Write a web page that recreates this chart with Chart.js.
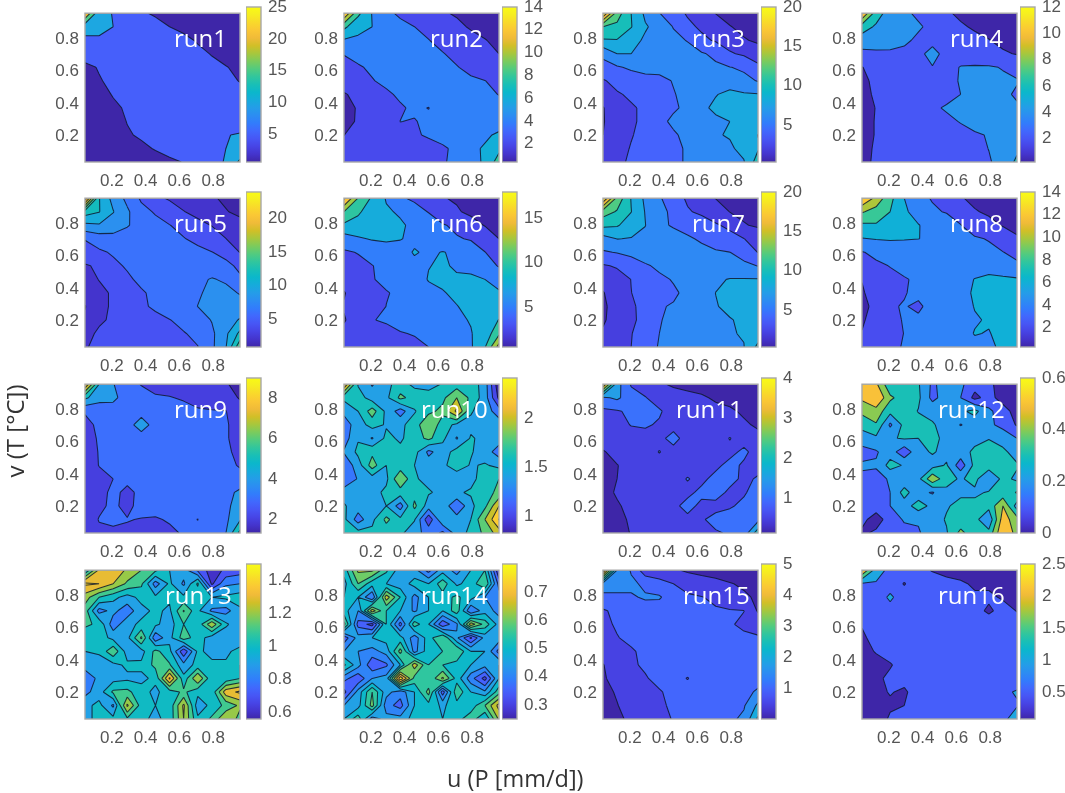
<!DOCTYPE html>
<html>
<head>
<meta charset="utf-8">
<style>
  body { margin: 0; background: #fff; }
  #wrap { position: relative; width: 1065px; height: 793px; overflow: hidden; filter: blur(0.35px); }
  canvas { position: absolute; }
  .axisTitle { position: absolute; font-family: "Open Sans"; color: #333; white-space: nowrap; }
</style>
<script src="https://cdn.jsdelivr.net/npm/chart.js@4"></script>
</head>
<body>
<div id="wrap">
  <div class="axisTitle" style="left:447px;top:762px;font-size:23.5px">u (P [mm/d])</div>
  <div class="axisTitle" style="left:14px;top:431px;font-size:24px;transform:translate(-50%,-50%) rotate(-90deg)">v (T [°C])</div>
</div>
<script>
// grid of the surfaces, rows of each run go from the top (high v) down
const gridU = [0.0417, 0.125, 0.2083, 0.2917, 0.375, 0.4583, 0.5417, 0.625, 0.7083, 0.7917, 0.875, 0.9583];
const gridV = [0.9583, 0.875, 0.7917, 0.7083, 0.625, 0.5417, 0.4583, 0.375, 0.2917, 0.2083, 0.125, 0.0417];
const axisTicks = [0.2, 0.4, 0.6, 0.8];
const runNames = ['run1','run2','run3','run4','run5','run6','run7','run8','run9','run10','run11','run12','run13','run14','run15','run16'];

const run1 = [
  [25,11.5,9.8,8.5,5.4,4.6,4.3,4,3.6,3.3,3.1,3],
  [12,11,10,8,7,6,5,4.5,4.2,3.8,3.4,3],
  [9,9.5,8,7.5,7,6.5,6,5.5,4.8,4.2,3.6,3.1],
  [6.4,6,6.5,7,7,6.6,6.2,5.9,5.5,4.9,4.2,3.6],
  [4.3,5.2,6,6.6,7,7,6.6,6.2,5.9,5.5,5.1,4.5],
  [3.4,4.8,5.6,6.3,7,7,7,6.6,6.2,5.9,5.6,4.9],
  [3,3.9,5.2,6,6.6,7,7,6.9,6.5,6.3,6,5.8],
  [2.7,3.4,4.4,5.4,6.2,6.8,7,7,6.8,6.6,6.4,6.3],
  [2.4,3,3.8,5.1,5.8,6.4,6.8,7,7,6.9,7,7.5],
  [2.1,2.7,3.3,4.7,5.4,6,6.4,6.8,7,7.5,9.8,10.4],
  [1.7,2.3,2.8,3.5,4.4,5.2,5.9,6.4,7,8,10,11],
  [1,1.8,2.3,2.8,3.3,3.9,4.5,5.1,6.5,8,10.5,16]
];
const run2 = [
  [14,8.5,5.9,4.5,3.6,3.2,2.8,2.2,1.8,1.6,1.4,1.2],
  [8.5,6.5,6,5,4.6,4,3.4,3,2.4,1.8,1.6,1.4],
  [5.8,5.7,5.3,5,4.7,4.4,4.05,3.4,3,2.6,2.05,1.7],
  [4.1,4.6,5,5,4.9,4.7,4.4,4.1,3.5,3,2.5,2],
  [3.2,3.8,4.3,4.6,4.8,4.8,4.6,4.4,4.1,3.5,3,2.6],
  [2.6,3.1,3.9,4.4,4.7,4.9,4.9,4.7,4.5,4.3,4.03,3.5],
  [1.9,2.3,3,3.7,4.3,4.7,4.9,4.9,4.8,4.6,4.4,3.95],
  [1.6,2.1,2.8,3.4,3.8,4.3,3.95,4.9,5,4.9,4.7,4.6],
  [1.7,2.1,2.8,3.3,4.02,3.9,4.4,4.8,5,5.1,5,5.1],
  [1.98,2.6,3,3.3,3.6,3.9,4.1,4.5,5,5.2,5.7,6.3],
  [2.3,2.8,3.1,3.3,3.5,3.6,3.7,3.8,4.3,5.6,6.2,7.5],
  [2.5,2.8,3,3.2,3.3,3.4,3.6,3.8,4.5,5.5,6.2,9]
];
const run3 = [
  [20,13,10,7.6,6.05,4.8,3.8,2.8,1.95,1.6,1.3,1.1],
  [12,11.5,10.1,8.2,7.3,5.9,4.4,3.7,3,2.05,1.7,1.3],
  [9.8,9.9,8.7,7.7,7.1,6.5,5.9,4.4,3.8,3.2,2.1,1.8],
  [6.4,8,8,7.5,7.2,7,6.7,6.2,5.6,4.2,3.7,2.6],
  [5.4,5.8,6.3,6.6,6.6,6.7,6.6,6.5,6.3,6.05,5.7,4.6],
  [3.8,4.6,5,5.4,5.5,6.1,6.7,6.9,7.2,7,6.5,5.9],
  [3,3.8,4.3,4.8,5.3,5.9,6.5,7.2,7.9,8.5,8.2,8.1],
  [1.9,3.2,3.8,4.3,4.8,5.8,6.3,7.6,8.4,8.7,8.7,8.8],
  [1.9,2.8,3.8,4.3,5.6,6.3,6.7,7.2,7.6,8,8.5,9.2],
  [2,3.2,3.9,4.5,5.2,5.8,6.4,6.9,7.9,8.1,8.6,10.05],
  [2.6,3.4,4.1,4.6,5,5.6,6.2,6.7,7.1,7.8,8.4,9.8],
  [2.9,3.7,4.2,4.7,5,5.6,6.2,6.6,7,7.6,7.9,11]
];
const run4 = [
  [12,7,5,4.3,3.7,3,2.2,1.7,1.4,1.2,1,0.9],
  [7,5.7,4.9,4.6,4.2,3.6,3,2.2,1.8,1.5,1.3,1.1],
  [5,5,4.7,4.3,3.7,3.3,3,2.8,2.4,2.05,1.6,1.3],
  [3.5,3.6,3.7,3.6,3.4,4.8,3.2,3,2.8,2.5,2.2,1.9],
  [1.95,2.6,3,3.2,3.2,3.9,3.3,4.1,4.2,4.2,3.9,3.5],
  [1.8,2.2,3,3.2,3.3,3.3,3.6,4.1,4.3,4.4,4.3,4.1],
  [1.6,2.2,3,3.2,3.3,3.4,3.7,4,4.4,4.4,4.3,3.8],
  [1.4,2.05,3,3.2,3.3,3.85,4.1,4.3,4.4,4.4,4.3,4.2],
  [1.4,2.1,2.9,3.2,3.3,3.5,3.8,4.05,4.3,4.4,4.4,4.4],
  [1.4,2.1,2.8,3.1,3.2,3.3,3.5,3.7,3.9,4.05,4.4,4.6],
  [1.5,2.2,2.8,3,3.1,3.2,3.3,3.5,3.7,4.02,4.4,5.5],
  [1.5,2.3,2.8,3,3.1,3.2,3.2,3.4,3.7,3.9,4.4,6.5]
];
const run5 = [
  [23.5,12.1,9.3,7.5,5.7,4.4,3.8,3.4,3,2.2,1.7,1.3],
  [13,12.1,10.1,8.3,6.6,5.8,4.9,4.05,3.6,3,2.1,1.6],
  [9.5,9.8,8.9,8.1,7.5,6.6,6.05,5.4,4.4,3.95,3.3,2.6],
  [6.1,6.9,7.4,7.4,7.5,7,6.7,6.1,5.5,4.7,4.02,3.3],
  [5.2,5.7,6.2,6.7,7,7.2,7.2,6.8,6.5,6.05,5.4,3.95],
  [3.8,4.3,5.6,6.2,6.8,7.2,7.4,7.3,7.2,7.2,6.5,5.6],
  [3.4,4.05,4.9,5.7,6.4,7,7.3,7.5,7.7,8.1,7.8,6.3],
  [3,3.6,4.2,5,5.8,6.4,7,7.4,7.8,8.4,8.4,7.9],
  [1.9,3.6,4.2,4.8,5.7,6.3,6.9,7.4,8.02,8.6,8.9,8.6],
  [2.3,3.8,4.2,4.6,5.2,5.5,5.95,6.5,7.1,8.1,9,10.2],
  [3.6,4.2,4.5,4.7,5,5.2,5.5,5.9,6.4,7.6,9.6,12.5],
  [3.9,4.3,4.5,4.7,4.9,5,5.3,5.6,5.95,7.6,9.9,15.5]
];
const run6 = [
  [18,12.4,9.6,7.3,5.3,4.6,3.8,2.6,2.3,1.9,1.5,1.2],
  [12.5,10.3,9,7.8,7.2,5.9,4.9,3.5,2.7,2.1,1.7,1.3],
  [9.5,9.3,8.7,8.3,7.8,7,6.2,5.2,4.5,3.3,2.4,2],
  [6.3,7.2,7.7,7.9,7.6,7,6.7,6,5.2,4.8,3.8,2.5],
  [4.7,5.1,5.7,6.2,6.6,7.7,7.1,7.6,7.1,6.4,5.05,4],
  [3.7,4.4,4.95,5.5,6.1,6.9,7.45,7.7,7.3,6.9,6.2,4.8],
  [3.1,3.7,4.9,5.4,6,6.7,7.6,7.8,7.7,7.9,7.5,6.8],
  [2.4,3.3,4.1,4.9,5.3,6,7,7.4,7.8,8,8,7.7],
  [2.6,3.2,3.9,5.02,5.7,6.3,6.9,7.2,7.45,7.9,8.2,8.3],
  [2.4,3.1,4.9,5.3,5.6,6,6.5,6.9,7.2,7.6,8.3,10.1],
  [2.8,3.2,3.7,4.2,4.9,5.1,5.9,6.3,6.9,7.4,8.4,12],
  [3,3.2,3.5,3.8,4.2,4.6,5,5.7,6.5,7.2,9.8,16]
];
const run7 = [
  [20,13.4,9.9,7.6,6.2,5,3.7,2.5,1.95,1.6,1.3,1.1],
  [13,11.8,10.05,7.9,6.4,5.7,4.2,3.6,3,1.95,1.7,1.4],
  [10.5,10.2,9,8.05,6.2,5.9,5.5,5,4.2,3.6,2.1,1.8],
  [7.2,8.05,7.9,7.5,6.9,6.4,6.2,5.8,5.1,4.6,4.05,3],
  [5.8,6.1,6.5,6.9,7,6.9,6.7,6.4,6.2,6.02,5.3,3.95],
  [3.8,4.2,5,5.8,6.3,6.7,7,7.1,7,6.7,6.4,5.95],
  [2.6,3.2,4.03,5,5.7,6.1,6.8,7.3,7.7,8.1,8.1,8.1],
  [1.9,2.9,3.98,4.5,5.2,5.8,6.3,7.2,8.02,8.5,8.6,8.7],
  [1.7,2.7,3.8,4.4,5.9,6.1,6.7,7.3,7.9,8.4,8.7,8.8],
  [1.8,2.7,3.7,4.5,5.9,6.4,6.8,7.2,7.6,7.9,8.3,8.7],
  [2.2,3,3.95,4.6,6,6.5,6.8,7.1,7.4,7.9,8.1,8.9],
  [2.5,3.2,4,5.4,6.1,6.5,6.7,7,7.2,7.6,7.95,10.5]
];
const run8 = [
  [14,11.4,8.6,6,4.4,3.9,3,2.1,1.7,1.4,1.1,0.9],
  [10.2,9.2,8,6.2,5.5,4.2,3.9,3.3,2.1,1.8,1.5,1.2],
  [7.6,7.8,7,6.7,6.05,5.6,4.8,4.05,3.1,2.4,1.9,1.5],
  [5.9,6.1,6.2,6.1,6.02,5.8,5.4,4.9,4.2,3.9,3,2.2],
  [3.9,4.4,4.6,4.9,5,5.2,5.2,5,4.8,4.4,4.05,3.4],
  [3.1,3.7,4.05,4.4,4.7,4.9,5.1,5.2,5.3,5.3,5,4.4],
  [2.05,3.1,3.6,3.9,4.2,4.7,5.1,5.4,6.05,6.4,6.3,6.2],
  [1.85,2.6,3.3,3.9,4.4,4.7,5.1,5.5,6.2,6.5,6.5,6.4],
  [1.7,2.3,3.85,4.1,3.7,4.6,5.1,5.5,6.05,6.4,6.5,6.5],
  [1.85,2.5,3.4,4.15,4.3,4.6,5,5.4,5.9,6.1,6.5,6.7],
  [2.05,2.7,3.5,4.03,4.5,4.8,5.2,5.6,6.05,5.95,6.3,6.6],
  [2.2,2.9,3.7,4.1,4.5,4.8,5.1,5.5,5.7,5.95,6.05,6.7]
];
const run9 = [
  [9,5,4.05,3.3,2.95,2.7,2.6,2.6,2.5,2.4,2.1,1.6],
  [5.2,4.4,4.2,3.6,3.4,3.1,3.05,2.9,2.7,2.6,2.5,1.9],
  [3.1,3.3,3.6,3.6,3.5,3.4,3.4,3.3,3.1,3.05,3.02,2.5],
  [2.7,3.2,3.4,3.5,4.6,3.5,3.4,3.4,3.3,3.2,3.1,2.6],
  [2.6,3.1,3.3,3.4,3.4,3.4,3.4,3.4,3.4,3.3,3.1,2.6],
  [2.5,3.05,3.3,3.4,3.4,3.4,3.4,3.4,3.4,3.3,3.2,2.7],
  [2.6,3.02,3.2,3.3,3.3,3.4,3.4,3.4,3.4,3.4,3.3,2.9],
  [2.6,2.8,3,3.2,3.3,3.4,3.4,3.5,3.5,3.5,3.5,3.4],
  [2.5,2.7,3.2,2.8,3.2,3.4,3.5,3.5,3.5,3.6,3.7,4.2],
  [2.4,2.8,3.2,2.7,3.4,3.4,3.5,3.5,3.4,3.6,3.8,4.4],
  [2.4,3.05,3.2,3.05,2.95,2.9,3.1,3.3,2.98,3.5,3.8,4.9],
  [2.5,2.8,2.8,2.8,2.9,3,2.8,3.1,3.3,3.5,4,6.3]
];
const run10 = [
  [2.4,1.58,1.38,1.55,1.68,1.55,1.5,1.62,1.7,1.72,1.5,0.85],
  [1.65,1.7,1.5,1.55,1.85,1.72,1.72,1.75,2,1.75,1.5,0.95],
  [1.45,1.6,1.9,1.55,1.3,1.58,1.75,1.85,2.25,1.62,1.5,1.3],
  [1.3,1.5,1.68,1.58,1.55,1.7,1.98,1.7,1.55,1.55,1.55,1.5],
  [1.3,1.58,1.38,1.65,1.57,1.7,1.85,1.65,1.38,1.62,1.55,1.5],
  [1.42,1.65,1.75,1.72,1.65,1.68,1.35,1.5,1.68,1.62,1.5,1.3],
  [1.25,1.5,1.9,1.6,1.68,1.6,1.5,1.55,1.72,1.58,1.62,1.55],
  [1.2,1.42,1.5,1.55,2,1.62,1.55,1.6,1.45,1.55,1.68,1.8],
  [1.52,1.58,1.52,1.65,1.7,1.72,1.62,1.55,1.58,1.62,1.72,1.85],
  [1.62,1.5,1.55,1.6,1.3,1.85,1.5,1.55,1.2,1.55,1.75,2.2],
  [1.65,1.3,1.55,1.85,1.65,1.62,1.05,1.58,1.5,1.6,2,2.41],
  [1.72,1.68,1.65,1.68,1.65,1.45,1.35,1.15,1.5,1.65,1.85,2.1]
];
const run11 = [
  [4,1.7,0.95,0.8,0.55,0.45,0.4,0.35,0.35,0.3,0.3,0.25],
  [1.4,1.6,1.2,1.02,0.8,0.65,0.6,0.55,0.45,0.4,0.38,0.3],
  [0.9,0.95,1.1,1.15,1.05,0.8,0.7,0.65,0.6,0.55,0.45,0.35],
  [0.8,0.85,1.02,1.05,0.95,0.8,0.7,0.7,0.65,0.6,0.55,0.45],
  [0.8,0.8,0.8,0.85,0.85,1.2,0.75,0.7,0.7,1.03,0.7,0.6],
  [0.45,0.7,0.75,0.8,1.02,0.8,0.75,0.75,0.75,0.8,1.15,0.7],
  [0.4,0.48,0.7,0.75,0.8,0.8,0.8,0.8,0.85,1.2,0.9,0.85],
  [0.35,0.5,0.7,0.75,0.8,0.8,1.03,0.85,1.2,1.15,0.9,1.05],
  [0.35,0.55,0.65,0.75,0.8,0.8,0.85,1.15,1.2,0.9,0.95,1.2],
  [0.3,0.45,0.62,0.75,0.8,0.85,1.2,0.85,0.85,0.95,1.1,1.25],
  [0.25,0.4,0.55,0.7,0.8,0.8,0.85,0.95,1.15,1.2,1.25,1.35],
  [0.2,0.35,0.52,0.7,0.75,0.8,0.85,0.9,0.95,1.05,1.2,2.3]
];
const run12 = [
  [0.52,0.52,0.32,0.33,0.31,0.18,0.25,0.22,0.14,0.13,0.04,0.02],
  [0.52,0.6,0.42,0.35,0.32,0.17,0.25,0.2,0.07,0.14,0.05,0.03],
  [0.43,0.46,0.33,0.35,0.295,0.27,0.27,0.28,0.33,0.22,0.15,0.05],
  [0.32,0.39,0.18,0.33,0.34,0.31,0.26,0.195,0.24,0.22,0.17,0.09],
  [0.27,0.28,0.29,0.31,0.3,0.33,0.27,0.26,0.27,0.295,0.26,0.2],
  [0.15,0.19,0.25,0.13,0.27,0.31,0.27,0.26,0.32,0.35,0.32,0.26],
  [0.22,0.21,0.34,0.29,0.27,0.26,0.31,0.14,0.33,0.35,0.34,0.31],
  [0.17,0.17,0.21,0.23,0.27,0.48,0.33,0.29,0.33,0.2,0.33,0.28],
  [0.16,0.17,0.2,0.34,0.23,0.19,0.28,0.28,0.28,0.31,0.33,0.41],
  [0.15,0.15,0.2,0.25,0.35,0.27,0.29,0.33,0.33,0.33,0.5,0.25],
  [0.13,0.05,0.15,0.21,0.21,0.25,0.31,0.33,0.33,0.22,0.55,0.44],
  [0.08,0.12,0.15,0.17,0.19,0.25,0.29,0.43,0.33,0.33,0.6,0.46]
];
const run13 = [
  [1,1.32,1.38,1.28,1.2,1.12,1,0.95,0.78,0.65,0.72,0.75],
  [1.42,1.4,1.3,1.18,1.12,0.85,1.02,0.88,1.12,0.68,0.88,0.9],
  [1.25,1.1,1.03,0.96,1.03,1.02,1.02,1.02,1.02,1,1.02,1.05],
  [1.15,0.86,0.93,0.84,0.97,1.02,0.98,1.21,1.02,0.88,0.86,0.98],
  [1.12,1.08,0.84,0.97,1.02,1.02,0.95,1.1,1.03,1.28,1.02,0.92],
  [1.03,1.05,0.97,0.97,1.22,0.82,0.97,1.15,1.05,0.95,0.92,0.9],
  [1,1.02,1.18,0.95,0.96,1.13,1.03,0.72,1.02,0.97,0.97,1.05],
  [0.95,0.94,0.97,1.02,1.02,1.13,1.11,0.93,1.04,1.02,1.02,1.1],
  [0.82,0.93,0.96,0.98,0.98,1.02,1.42,1.03,1.3,1.02,1.03,1.1],
  [0.87,0.95,1.12,1.13,1.03,0.98,1.05,1.12,1.03,1.03,1.36,1.42],
  [0.97,1.03,0.88,1.32,1.05,1,1.03,1.32,0.94,1.03,1.13,1.22],
  [0.98,1.02,1.03,1.08,1.02,0.98,1.03,1.3,1.02,1.12,1.3,1.16]
];
const run14 = [
  [0.52,0.66,0.66,0.56,0.47,0.47,0.38,0.48,0.43,0.5,0.55,0.3],
  [0.48,0.6,0.52,0.5,0.47,0.52,0.5,0.58,0.49,0.52,0.6,0.38],
  [0.5,0.5,0.4,0.68,0.55,0.43,0.5,0.53,0.56,0.52,0.45,0.42],
  [0.52,0.45,0.68,0.55,0.5,0.44,0.5,0.5,0.58,0.4,0.48,0.43],
  [0.62,0.38,0.33,0.55,0.38,0.58,0.5,0.36,0.44,0.68,0.58,0.48],
  [0.37,0.47,0.5,0.52,0.52,0.42,0.53,0.6,0.46,0.34,0.47,0.48],
  [0.45,0.45,0.43,0.47,0.62,0.43,0.53,0.55,0.6,0.5,0.5,0.38],
  [0.56,0.47,0.36,0.39,0.5,0.68,0.55,0.55,0.53,0.5,0.47,0.5],
  [0.42,0.36,0.45,0.47,0.79,0.58,0.55,0.66,0.53,0.42,0.33,0.5],
  [0.33,0.47,0.6,0.47,0.42,0.5,0.62,0.37,0.59,0.5,0.46,0.58],
  [0.45,0.48,0.62,0.42,0.38,0.5,0.53,0.49,0.53,0.52,0.6,0.72],
  [0.5,0.58,0.42,0.47,0.47,0.52,0.53,0.5,0.53,0.58,0.5,0.66]
];
const run15 = [
  [5,2,1.45,0.7,0.62,0.55,0.45,0.4,0.35,0.3,0.25,0.2],
  [1.8,1.7,1.6,1.4,1.2,1,0.75,0.65,0.6,0.52,0.45,0.3],
  [1.35,1.4,1.45,1.55,1.55,1.25,1.1,1.02,0.9,0.7,0.55,0.45],
  [0.95,1.1,1.2,1.3,1.25,1.2,1.15,1.1,1.05,1.03,1.01,0.45],
  [0.9,1.05,1.2,1.2,1.2,1.2,1.2,1.2,1.15,1.05,0.9,0.8],
  [0.8,0.98,1.1,1.2,1.2,1.2,1.2,1.2,1.2,1.15,1.1,1.05],
  [0.7,0.8,0.95,1.1,1.2,1.2,1.2,1.2,1.2,1.2,1.2,1.15],
  [0.48,0.75,0.95,1.05,1.2,1.2,1.2,1.2,1.2,1.2,1.2,1.2],
  [0.45,0.65,0.8,0.97,1.1,1.15,0.98,1.2,1.2,1.2,1.2,1.25],
  [0.35,0.55,0.75,0.85,0.97,1.1,1.2,1.2,1.25,1.25,1.3,1.6],
  [0.3,0.48,0.7,0.85,0.95,1.05,1.2,1.2,1.25,1.3,1.45,2.1],
  [0.2,0.4,0.6,0.8,0.9,1.02,1.15,1.2,1.25,1.4,1.6,2.6]
];
const run16 = [
  [2.5,1.25,0.85,0.75,0.6,0.48,0.4,0.35,0.35,0.3,0.3,0.25],
  [0.95,0.95,0.75,0.47,0.75,0.65,0.6,0.55,0.45,0.45,0.4,0.3],
  [0.8,0.7,1.1,0.7,0.7,0.7,0.65,0.6,0.55,0.55,0.47,0.35],
  [0.75,0.75,0.8,0.7,0.7,0.7,0.7,0.65,0.6,0.45,0.6,0.49],
  [0.52,0.6,0.65,0.7,0.7,0.7,0.7,0.7,0.7,0.65,0.65,0.6],
  [0.45,0.6,0.65,0.7,0.7,0.7,0.7,0.7,0.7,0.7,0.7,0.65],
  [0.4,0.52,0.6,0.7,0.7,0.7,0.7,0.7,0.7,0.7,0.7,0.7],
  [0.3,0.4,0.48,0.6,0.7,0.7,0.7,0.7,0.7,0.7,0.7,0.7],
  [0.3,0.45,0.55,0.6,0.7,0.7,0.7,0.7,0.7,0.7,0.7,0.7],
  [0.3,0.42,0.52,0.45,0.65,0.7,0.7,0.7,0.7,0.7,0.9,1.05],
  [0.25,0.35,0.45,0.5,0.65,0.7,0.7,0.7,0.7,0.7,0.75,0.95],
  [0.15,0.3,0.55,0.6,0.7,0.7,0.65,0.7,0.7,0.7,0.8,1.4]
];
const runs = [run1, run2, run3, run4, run5, run6, run7, run8, run9, run10, run11, run12, run13, run14, run15, run16];

// contour levels and colour limits of each run
const runLevels = [
  [5,10,15,20], [2,4,6,8,10,12], [2,4,6,8,10,12,14,16,18], [2,4,6,8,10],
  [2,4,6,8,10,12,14,16,18,20,22], [2.5,5,7.5,10,12.5,15,17.5], [2,4,6,8,10,12,14,16,18], [2,4,6,8,10,12],
  [2,3,4,5,6,7,8], [1,1.2,1.4,1.6,1.8,2,2.2,2.4], [0.5,1,1.5,2,2.5,3,3.5], [0.1,0.2,0.3,0.4,0.5],
  [0.6,0.7,0.8,0.9,1,1.1,1.2,1.3,1.4], [0.3,0.35,0.4,0.45,0.5,0.55,0.6,0.65,0.7,0.75], [0.5,1,1.5,2,2.5,3,3.5,4,4.5], [0.5,1,1.5,2]
];
const barLow = [0.7,0.4,0.3,0.2,0.8,0.55,0.3,0.3,1.34,0.83,0.14,0,0.56,0.25,0.03,0.08];
const barHigh = [25,14,20,12,24,17.9,20,14,9,2.41,4,0.6,1.5,0.8,5,2.5];
const barTicks = [
  [5,10,15,20,25], [2,4,6,8,10,12,14], [5,10,15,20], [2,4,6,8,10,12],
  [5,10,15,20], [5,10,15], [5,10,15,20], [2,4,6,8,10,12,14],
  [2,4,6,8], [1,1.5,2], [1,2,3,4], [0,0.2,0.4,0.6],
  [0.6,0.8,1,1.2,1.4], [0.3,0.4,0.5,0.6,0.7], [1,2,3,4,5], [0.5,1,1.5,2,2.5]
];

// page layout
const plotLefts = [85, 344, 603, 862];
const barLefts = [246, 502, 761, 1020];
const rowTops = [7, 192, 378, 564];
const nameLefts = [174,430,692,950, 174,430,692,950, 174,421,676,938, 165,421,683,938];

// parula, every 4th entry
const parula = [
  [62,38,168],[69,55,213],[72,77,240],[69,99,253],[50,124,252],[43,145,239],[32,165,227],[8,181,208],
  [25,191,182],[55,200,151],[100,205,111],[157,201,67],[209,191,39],[248,186,61],[252,207,48],[245,233,36],[249,251,21]
];
function parulaAt(t) {
  t = Math.max(0, Math.min(1, t));
  const p = t * (parula.length - 1), i = Math.min(Math.floor(p), parula.length - 2), f = p - i;
  const c = parula[i].map((v, k) => Math.round(v + (parula[i + 1][k] - v) * f));
  return `rgb(${c[0]},${c[1]},${c[2]})`;
}

Chart.defaults.color = '#555';
Chart.defaults.font.family = '"Liberation Sans"';
Chart.defaults.font.size = 17;
Chart.defaults.animation = false;
Chart.defaults.responsive = false;
Chart.defaults.plugins.legend.display = false;
Chart.defaults.plugins.tooltip.enabled = false;

function useTicks(list) {
  return axis => { axis.ticks = list.map(value => ({ value })); };
}

// a saddle cell whose centre is under the level splits in two corners
function splitSaddle(poly, centre, level) {
  if (poly.length !== 6 || poly.filter(p => p.cross).length !== 4 || centre >= level) return [poly];
  const s = poly.findIndex(p => !p.cross);
  const r = poly.slice(s).concat(poly.slice(0, s));
  return [[r[5], r[0], r[1]], [r[2], r[3], r[4]]];
}

// marching squares through the scales, one filled path per level
const contourPlugin = {
  id: 'contour',
  beforeDatasetsDraw(chart, args, opts) {
    const { ctx, chartArea: area, scales } = chart;
    const z = opts.grid, lo = opts.low, hi = opts.high;
    const px = gridU.map(v => scales.x.getPixelForValue(v));
    const py = gridV.map(v => scales.y.getPixelForValue(v));
    ctx.save();
    ctx.beginPath();
    ctx.rect(area.left, area.top, area.width, area.height);
    ctx.clip();
    ctx.fillStyle = parulaAt(0);
    ctx.fillRect(area.left, area.top, area.width, area.height);
    const lines = new Path2D();
    opts.levels.forEach(level => {
      const fill = new Path2D();
      for (let j = 0; j < z.length - 1; j++) {
        for (let i = 0; i < z[j].length - 1; i++) {
          const corners = [[i, j], [i + 1, j], [i + 1, j + 1], [i, j + 1]];
          const poly = [];
          let centre = 0;
          corners.forEach((c, k) => {
            const n = corners[(k + 1) % 4];
            const a = z[c[1]][c[0]], b = z[n[1]][n[0]];
            centre += a / 4;
            if (a >= level) poly.push({ x: px[c[0]], y: py[c[1]], cross: false });
            if ((a >= level) !== (b >= level)) {
              const f = (level - a) / (b - a);
              poly.push({ x: px[c[0]] + (px[n[0]] - px[c[0]]) * f, y: py[c[1]] + (py[n[1]] - py[c[1]]) * f, cross: true });
            }
          });
          if (!poly.length) continue;
          splitSaddle(poly, centre, level).forEach(part => {
            part.forEach((p, k) => {
              if (k === 0) fill.moveTo(p.x, p.y); else fill.lineTo(p.x, p.y);
              const q = part[(k + 1) % part.length];
              if (p.cross && q.cross) { lines.moveTo(p.x, p.y); lines.lineTo(q.x, q.y); }
            });
            fill.closePath();
          });
        }
      }
      ctx.fillStyle = parulaAt((level - lo) / (hi - lo));
      ctx.fill(fill);
    });
    ctx.strokeStyle = 'rgba(15,25,45,0.85)';
    ctx.lineWidth = 1.05;
    ctx.stroke(lines);
    ctx.restore();
  },
  afterDatasetsDraw(chart, args, opts) {
    const { ctx, chartArea: area } = chart;
    ctx.save();
    ctx.fillStyle = '#fff';
    ctx.font = '24px "Open Sans"';
    ctx.textBaseline = 'alphabetic';
    ctx.fillText(opts.name, opts.nameX, area.top + 34);
    ctx.restore();
  }
};

const boxPlugin = {
  id: 'box',
  afterDraw(chart) {
    const { ctx, chartArea: area } = chart;
    ctx.save();
    ctx.strokeStyle = '#a8a8a8';
    ctx.lineWidth = 1.4;
    ctx.strokeRect(area.left, area.top, area.width, area.height);
    ctx.restore();
  }
};

function addCanvas(left, top, width, height) {
  const c = document.createElement('canvas');
  c.width = width;
  c.height = height;
  c.style.left = left + 'px';
  c.style.top = top + 'px';
  document.getElementById('wrap').appendChild(c);
  return c;
}

runs.forEach((grid, n) => {
  const col = n % 4, row = Math.floor(n / 4);
  const points = [];
  grid.forEach((r, j) => r.forEach((v, i) => points.push({ x: gridU[i], y: gridV[j] })));

  new Chart(addCanvas(plotLefts[col] - 50, rowTops[row] - 10, 213, 195), {
    type: 'scatter',
    data: { datasets: [{ data: points, pointRadius: 0 }] },
    plugins: [contourPlugin, boxPlugin],
    options: {
      layout: { padding: { top: 10, right: 8 } },
      plugins: {
        contour: {
          grid, levels: runLevels[n], low: barLow[n], high: barHigh[n],
          name: runNames[n], nameX: nameLefts[n] - plotLefts[col] + 50
        }
      },
      scales: {
        x: {
          type: 'linear', min: gridU[0], max: gridU[11],
          grid: { display: false, drawTicks: false }, border: { display: false },
          afterBuildTicks: useTicks(axisTicks),
          afterFit: s => { s.height = 30; },
          ticks: { padding: 9, maxRotation: 0, autoSkip: false, callback: v => String(v) }
        },
        y: {
          type: 'linear', min: gridV[11], max: gridV[0],
          grid: { display: false, drawTicks: false }, border: { display: false },
          afterBuildTicks: useTicks(axisTicks),
          afterFit: s => { s.width = 50; },
          ticks: { padding: 6, autoSkip: false, callback: v => String(v) }
        }
      }
    }
  });

  // colour bar
  new Chart(addCanvas(barLefts[col], rowTops[row] - 10, 50, 175), {
    type: 'bar',
    data: {
      labels: [runNames[n]],
      datasets: [{
        data: [[barLow[n], barHigh[n]]],
        barPercentage: 1,
        categoryPercentage: 1,
        backgroundColor: c => {
          const area = c.chart.chartArea;
          if (!area) return parulaAt(0.5);
          const g = c.chart.ctx.createLinearGradient(0, area.bottom, 0, area.top);
          for (let s = 0; s <= 20; s++) g.addColorStop(s / 20, parulaAt(s / 20));
          return g;
        }
      }]
    },
    plugins: [boxPlugin],
    options: {
      layout: { padding: { top: 10, bottom: 10 } },
      scales: {
        x: { display: false },
        y: {
          position: 'right', min: barLow[n], max: barHigh[n],
          grid: { display: false, drawTicks: false }, border: { display: false },
          afterBuildTicks: useTicks(barTicks[n]),
          afterFit: s => { s.width = 35; s.paddingTop = 0; s.paddingBottom = 0; },
          ticks: { padding: 7, autoSkip: false, callback: v => String(v) }
        }
      }
    }
  });
});
</script>
</body>
</html>
